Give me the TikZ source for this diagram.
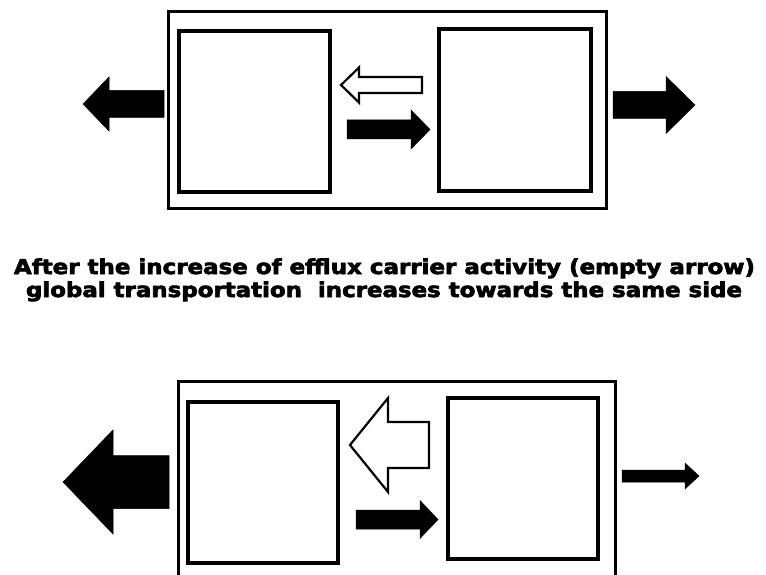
\documentclass[tikz,border=0pt]{standalone}
\usepackage{graphicx}
\usepackage{fontspec}
\setmainfont{DejaVu Sans}
\newfontfamily\capfont[BoldFeatures={FakeBold=3}]{DejaVu Sans}

% block arrow: style, tail x, tip x, mid y, half shaft, half head, head base x
\newcommand{\blockarr}[7]{%
  \draw[#1](#2,#4-#5)--(#7,#4-#5)--(#7,#4-#6)--(#3,#4)--(#7,#4+#6)--(#7,#4+#5)--(#2,#4+#5)--cycle;}

\tikzset{
  outerbox/.style={draw, line width=3pt, inner sep=0pt},
  cellbox/.style={draw, line width=3.5pt, inner sep=0pt},
  fullarr/.style={fill=black, draw=black, line width=0.5pt, line join=miter},
  emptyarr/.style={fill=white, draw=black, line width=2.2pt, line join=miter},
  caption/.style={anchor=base, inner sep=0pt, font=\capfont\bfseries}
}

\begin{document}
\begin{tikzpicture}[x=1pt, y=-1pt]
		\useasboundingbox (0,0) rectangle (766,575);
		\clip (0,0) rectangle (766,575);
		% upper scheme
		\draw[outerbox] (168,12) rectangle (606,208);
		\draw[cellbox] (179,31) rectangle (330,192);
		\draw[cellbox] (439,29) rectangle (591,191);
		\blockarr{fullarr}{164}{83}{104}{13.5}{27}{109}
		\blockarr{fullarr}{613}{695}{105}{13.5}{28.5}{666}
		\blockarr{emptyarr}{422}{341}{85}{8}{17.5}{359}
		\blockarr{fullarr}{347}{430}{129.5}{9.5}{19.5}{411}
		% caption
		\node[caption] (line1) at (384.5,274) {\resizebox{741pt}{15.5pt}{After the increase of efflux carrier activity (empty arrow)}};
		\node[caption] (line2) at (384,297) {\resizebox{716pt}{15.5pt}{global transportation\ \ increases towards the same side}};
		% lower scheme
		\draw[outerbox] (178,381) rectangle (615,600);
		\draw[cellbox] (188,402) rectangle (338,563);
		\draw[cellbox] (448,398) rectangle (598,559);
		\blockarr{fullarr}{169}{63}{482}{26.5}{52}{113}
		\blockarr{emptyarr}{429}{350}{445}{23}{47}{388}
		\blockarr{fullarr}{356}{438}{519.5}{9.5}{19}{420}
		\blockarr{fullarr}{622}{699}{476}{6}{13}{685}
		\end{tikzpicture}
\end{document}
